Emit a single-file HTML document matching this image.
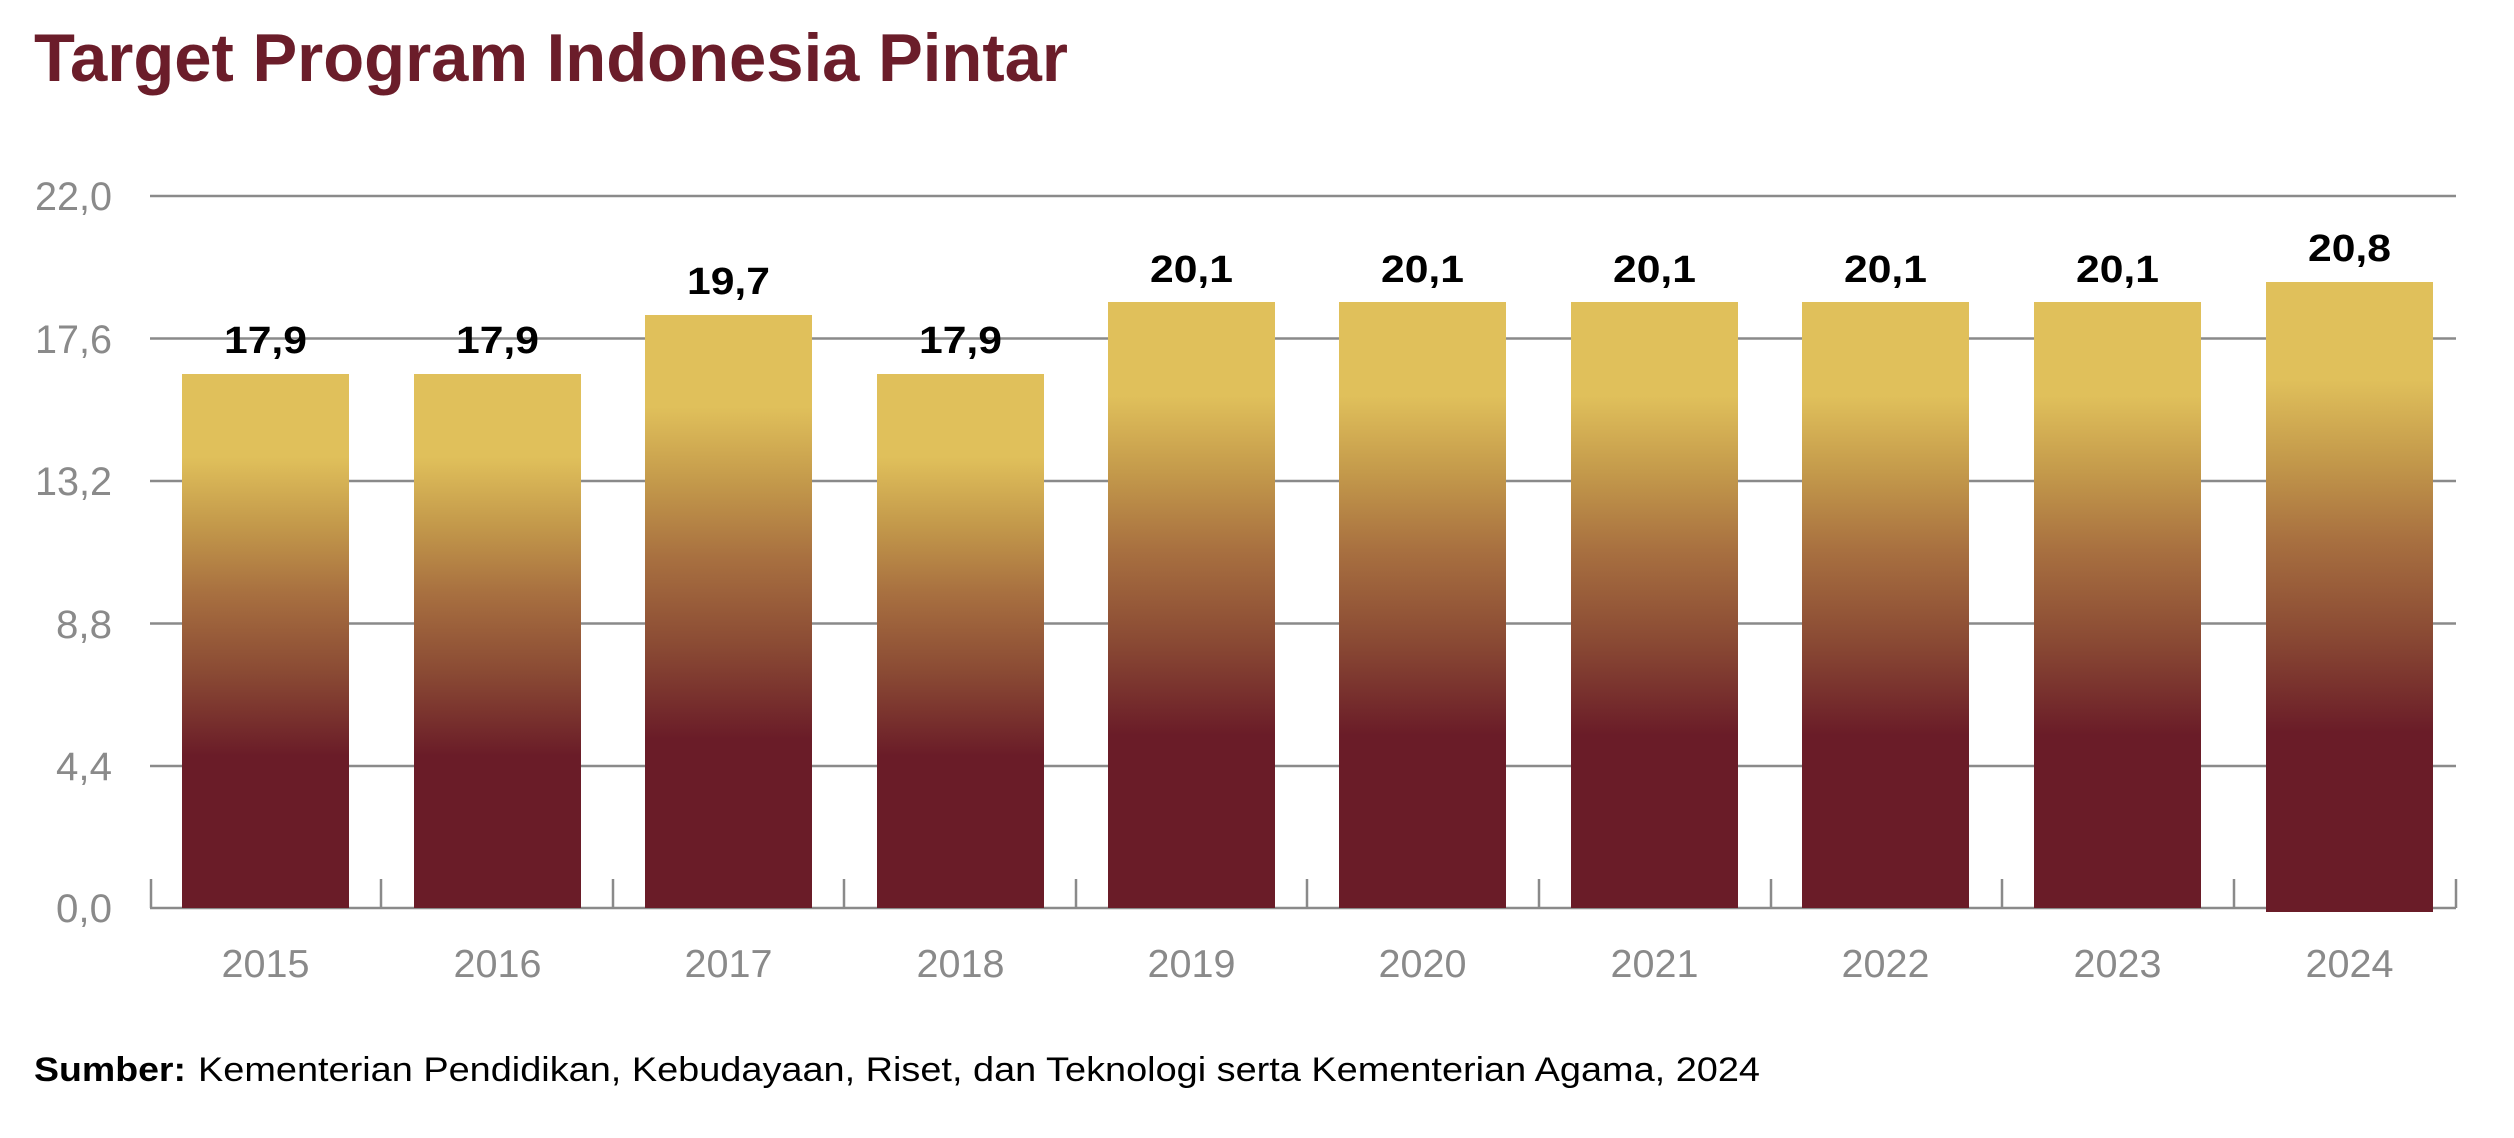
<!DOCTYPE html>
<html><head><meta charset="utf-8"><style>
html,body{margin:0;padding:0;background:#fff;}
svg{display:block;}
</style></head><body>
<svg width="2514" height="1138" viewBox="0 0 2514 1138" xmlns="http://www.w3.org/2000/svg">
<defs>
<linearGradient id="g" x1="0" y1="0" x2="0" y2="1">
<stop offset="0" stop-color="#e0c05b"/>
<stop offset="0.155" stop-color="#e0c05b"/>
<stop offset="0.28" stop-color="#c49a4b"/>
<stop offset="0.41" stop-color="#a87040"/>
<stop offset="0.56" stop-color="#8a4a34"/>
<stop offset="0.715" stop-color="#6a1c28"/>
<stop offset="1" stop-color="#6a1c28"/>
</linearGradient>
</defs>
<text x="34" y="81" font-family="Liberation Sans, sans-serif" font-weight="bold" font-size="68" fill="#6b1d2a" textLength="1034" lengthAdjust="spacingAndGlyphs">Target Program Indonesia Pintar</text>
<g stroke="#8a8a8a" stroke-width="2.5">
<line x1="150" y1="196" x2="2456" y2="196"/>
<line x1="150" y1="338.5" x2="2456" y2="338.5"/>
<line x1="150" y1="481" x2="2456" y2="481"/>
<line x1="150" y1="623.5" x2="2456" y2="623.5"/>
<line x1="150" y1="766" x2="2456" y2="766"/>
<line x1="150" y1="908" x2="2456" y2="908"/>
<line x1="151" y1="879" x2="151" y2="908"/>
<line x1="381" y1="879" x2="381" y2="908"/>
<line x1="613" y1="879" x2="613" y2="908"/>
<line x1="844" y1="879" x2="844" y2="908"/>
<line x1="1076" y1="879" x2="1076" y2="908"/>
<line x1="1307" y1="879" x2="1307" y2="908"/>
<line x1="1539" y1="879" x2="1539" y2="908"/>
<line x1="1771" y1="879" x2="1771" y2="908"/>
<line x1="2002" y1="879" x2="2002" y2="908"/>
<line x1="2234" y1="879" x2="2234" y2="908"/>
<line x1="2456" y1="879" x2="2456" y2="908"/>
</g>
<g font-family="Liberation Sans, sans-serif" font-size="40" fill="#8a8a8a" text-anchor="end">
<text x="112" y="210" textLength="77" lengthAdjust="spacingAndGlyphs">22,0</text>
<text x="112" y="353" textLength="77" lengthAdjust="spacingAndGlyphs">17,6</text>
<text x="112" y="495" textLength="77" lengthAdjust="spacingAndGlyphs">13,2</text>
<text x="112" y="638" textLength="56" lengthAdjust="spacingAndGlyphs">8,8</text>
<text x="112" y="780" textLength="56" lengthAdjust="spacingAndGlyphs">4,4</text>
<text x="112" y="922" textLength="56" lengthAdjust="spacingAndGlyphs">0,0</text>
</g>
<g>
<rect x="182" y="374" width="167" height="534" fill="url(#g)"/>
<rect x="414" y="374" width="167" height="534" fill="url(#g)"/>
<rect x="645" y="315" width="167" height="593" fill="url(#g)"/>
<rect x="877" y="374" width="167" height="534" fill="url(#g)"/>
<rect x="1108" y="302" width="167" height="606" fill="url(#g)"/>
<rect x="1339" y="302" width="167" height="606" fill="url(#g)"/>
<rect x="1571" y="302" width="167" height="606" fill="url(#g)"/>
<rect x="1802" y="302" width="167" height="606" fill="url(#g)"/>
<rect x="2034" y="302" width="167" height="606" fill="url(#g)"/>
<rect x="2266" y="282" width="167" height="630" fill="url(#g)"/>
</g>
<g font-family="Liberation Sans, sans-serif" font-weight="bold" font-size="38" fill="#000" text-anchor="middle">
<text x="265.5" y="353" textLength="83" lengthAdjust="spacingAndGlyphs">17,9</text>
<text x="497.5" y="353" textLength="83" lengthAdjust="spacingAndGlyphs">17,9</text>
<text x="728.5" y="294" textLength="83" lengthAdjust="spacingAndGlyphs">19,7</text>
<text x="960.5" y="353" textLength="83" lengthAdjust="spacingAndGlyphs">17,9</text>
<text x="1191.5" y="282" textLength="83" lengthAdjust="spacingAndGlyphs">20,1</text>
<text x="1422.5" y="282" textLength="83" lengthAdjust="spacingAndGlyphs">20,1</text>
<text x="1654.5" y="282" textLength="83" lengthAdjust="spacingAndGlyphs">20,1</text>
<text x="1885.5" y="282" textLength="83" lengthAdjust="spacingAndGlyphs">20,1</text>
<text x="2117.5" y="282" textLength="83" lengthAdjust="spacingAndGlyphs">20,1</text>
<text x="2349.5" y="261" textLength="83" lengthAdjust="spacingAndGlyphs">20,8</text>
</g>
<g font-family="Liberation Sans, sans-serif" font-size="39" fill="#8a8a8a" text-anchor="middle">
<text x="265.5" y="977" textLength="88" lengthAdjust="spacingAndGlyphs">2015</text>
<text x="497.5" y="977" textLength="88" lengthAdjust="spacingAndGlyphs">2016</text>
<text x="728.5" y="977" textLength="88" lengthAdjust="spacingAndGlyphs">2017</text>
<text x="960.5" y="977" textLength="88" lengthAdjust="spacingAndGlyphs">2018</text>
<text x="1191.5" y="977" textLength="88" lengthAdjust="spacingAndGlyphs">2019</text>
<text x="1422.5" y="977" textLength="88" lengthAdjust="spacingAndGlyphs">2020</text>
<text x="1654.5" y="977" textLength="88" lengthAdjust="spacingAndGlyphs">2021</text>
<text x="1885.5" y="977" textLength="88" lengthAdjust="spacingAndGlyphs">2022</text>
<text x="2117.5" y="977" textLength="88" lengthAdjust="spacingAndGlyphs">2023</text>
<text x="2349.5" y="977" textLength="88" lengthAdjust="spacingAndGlyphs">2024</text>
</g>
<text x="34" y="1081" font-family="Liberation Sans, sans-serif" font-weight="bold" font-size="34" fill="#000" textLength="152" lengthAdjust="spacingAndGlyphs">Sumber:</text>
<text x="198" y="1081" font-family="Liberation Sans, sans-serif" font-size="34" fill="#000" textLength="1562" lengthAdjust="spacingAndGlyphs">Kementerian Pendidikan, Kebudayaan, Riset, dan Teknologi serta Kementerian Agama, 2024</text>
</svg>
</body></html>
